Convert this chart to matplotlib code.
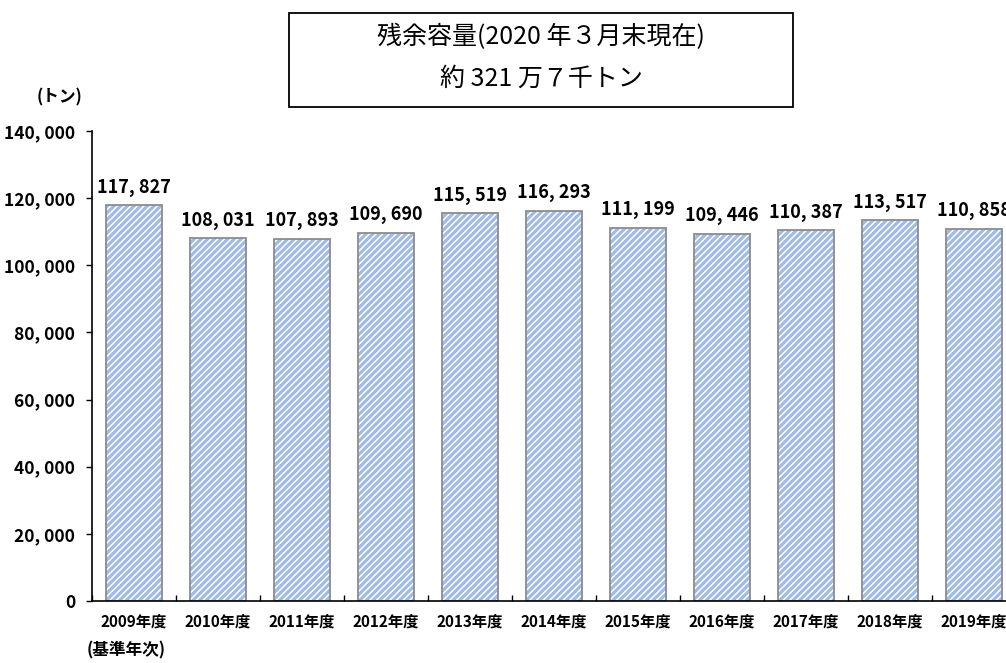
import matplotlib
matplotlib.use("Agg")
import matplotlib.pyplot as plt
import numpy as np

plt.rcParams['font.family'] = ['Noto Sans CJK JP', 'DejaVu Sans']
plt.rcParams['hatch.linewidth'] = 2.3

years = ['2009年度', '2010年度', '2011年度', '2012年度', '2013年度', '2014年度',
         '2015年度', '2016年度', '2017年度', '2018年度', '2019年度']
values = [117827, 108031, 107893, 109690, 115519, 116293,
          111199, 109446, 110387, 113517, 110858]
yticks = [0, 20000, 40000, 60000, 80000, 100000, 120000, 140000]

def fmt(v):
    return '{:,}'.format(v).replace(',', ', ')

fig = plt.figure(figsize=(10.06, 6.63), dpi=100)
W, H = 1006, 663
ax = fig.add_axes([92 / W, (H - 601) / H, 924 / W, 470 / H])

x = np.arange(len(years))
# hatch drawn in light blue, outline in grey on top
ax.bar(x, values, width=0.667, color='white', edgecolor='#9fbbe8',
       linewidth=0, hatch='/////')
ax.bar(x, values, width=0.667, fill=False, edgecolor='#8c8c8c',
       linewidth=1.3)

for xi, v in zip(x, values):
    ax.text(xi, v + 2500, fmt(v), ha='center', va='bottom',
            fontsize=13, fontweight='bold')

ax.set_xlim(-0.5, len(years) - 0.5)
ax.set_ylim(0, 140000)
ax.set_yticks(yticks)
ax.set_yticklabels([fmt(t) for t in yticks], fontsize=12.5, fontweight='bold')
ax.set_xticks(x)
ax.set_xticklabels(years, fontsize=11, fontweight='bold')
ax.set_xticks(np.arange(len(years) + 1) - 0.5, minor=True)
ax.tick_params(axis='x', which='major', length=0, pad=9)
ax.tick_params(axis='x', which='minor', direction='in', length=4, width=1)
ax.tick_params(axis='y', direction='out', length=4, width=1, pad=8)

for s in ['top', 'right']:
    ax.spines[s].set_visible(False)
for s in ['left', 'bottom']:
    ax.spines[s].set_linewidth(1.2)

fig.text(60 / W, 1 - 97 / H, '(トン)', ha='center', va='center',
         fontsize=12, fontweight='bold')
fig.text(126 / W, 1 - 650 / H, '(基準年次)', ha='center', va='center',
         fontsize=12, fontweight='bold')

fig.patches.append(plt.Rectangle((289 / W, 1 - 107 / H), 504 / W, 94 / H,
                                 transform=fig.transFigure, fill=False,
                                 edgecolor='black', linewidth=1.3))
fig.text(541 / W, 1 - 37 / H, '残余容量(2020 年３月末現在)', ha='center',
         va='center', fontsize=18)
fig.text(541 / W, 1 - 79 / H, '約 321 万７千トン', ha='center',
         va='center', fontsize=18)

fig.savefig('out.png', dpi=100)
